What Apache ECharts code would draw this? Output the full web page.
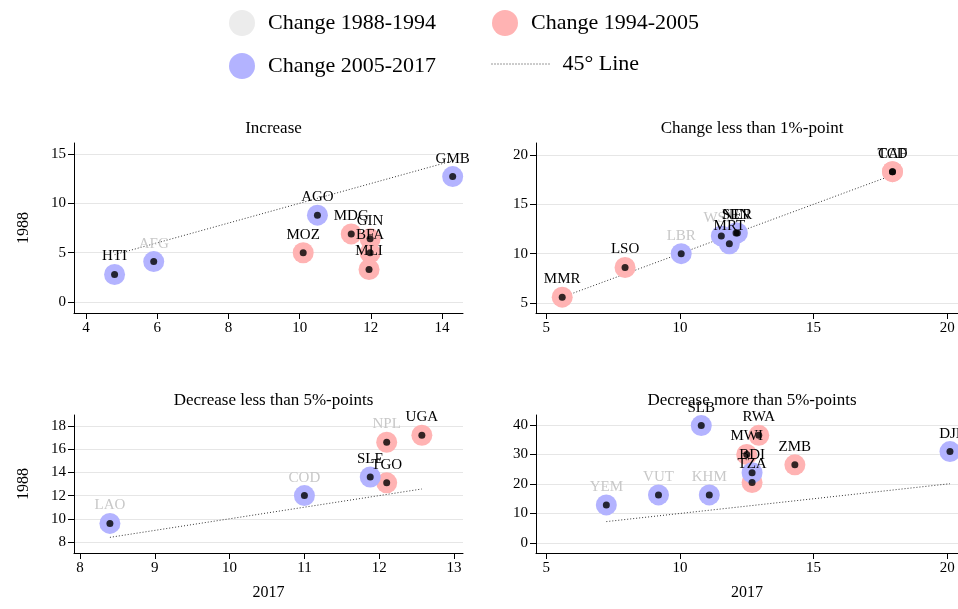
<!DOCTYPE html>
<html><head><meta charset="utf-8">
<script src="https://cdn.jsdelivr.net/npm/echarts@6/dist/echarts.min.js"></script>
<style>body{margin:0}#c{width:958px;height:609px}</style></head>
<body><div id="c"></div>
<script>
// [name, x(2017), y(1988), period, greyLabel]
var increase = [
  ["HTI", 4.8, 2.8, 2, 0], ["AFG", 5.9, 4.1, 2, 1], ["MOZ", 10.1, 5.0, 1, 0],
  ["AGO", 10.5, 8.8, 2, 0], ["MDG", 11.45, 6.9, 1, 0], ["GIN", 11.98, 6.4, 1, 0],
  ["BFA", 11.98, 5.0, 1, 0], ["MLI", 11.95, 3.3, 1, 0], ["GMB", 14.3, 12.7, 2, 0]
];
var small = [
  ["MMR", 5.6, 5.6, 1, 0], ["LSO", 7.95, 8.6, 1, 0], ["LBR", 10.05, 10.0, 2, 1],
  ["WSM", 11.55, 11.8, 2, 1], ["MRT", 11.85, 11.0, 2, 0], ["NER", 12.15, 12.1, 2, 0],
  ["SEN", 12.1, 12.1, 2, 0], ["TCD", 17.95, 18.3, 1, 0], ["CAF", 17.95, 18.3, 1, 0]
];
var decSmall = [
  ["LAO", 8.4, 9.6, 2, 1], ["COD", 11.0, 12.0, 2, 1], ["SLE", 11.88, 13.6, 2, 0],
  ["TGO", 12.1, 13.1, 1, 0], ["NPL", 12.1, 16.6, 1, 1], ["UGA", 12.57, 17.2, 1, 0]
];
var decLarge = [
  ["YEM", 7.25, 12.9, 2, 1], ["VUT", 9.2, 16.3, 2, 1], ["KHM", 11.1, 16.3, 2, 1],
  ["SLB", 10.8, 39.8, 2, 0], ["RWA", 12.95, 36.5, 1, 0], ["MWI", 12.5, 30.0, 1, 0],
  ["ZMB", 14.3, 26.5, 1, 0], ["BDI", 12.7, 23.8, 2, 0], ["TZA", 12.7, 20.5, 1, 0],
  ["DJI", 20.1, 31.0, 2, 0]
];
var panels = [increase, small, decSmall, decLarge];
var titles = ["Increase", "Change less than 1%-point", "Decrease less than 5%-points", "Decrease more than 5%-points"];
var periods = ["Change 1988-1994", "Change 1994-2005", "Change 2005-2017"];
var colors = ["#ececec", "#ffb3b3", "#b3b3ff"];
var xTicks = [[4, 6, 8, 10, 12, 14], [5, 10, 15, 20], [8, 9, 10, 11, 12, 13], [5, 10, 15, 20]];
var yTicks = [[0, 5, 10, 15], [5, 10, 15, 20], [8, 10, 12, 14, 16, 18], [0, 10, 20, 30, 40]];

var FONT = "Liberation Serif";
var grids = [
  { left: 74, right: 495, top: 143, height: 170 },
  { left: 536, right: 0, top: 143, height: 170 },
  { left: 74, right: 495, top: 415, height: 138 },
  { left: 536, right: 0, top: 415, height: 138 }
];
var xr = [[3.66, 14.59], [4.62, 20.4], [7.92, 13.12], [4.62, 20.4]];
var yr = [[-1.1, 16.1], [4, 21.2], [7.05, 18.95], [-3.4, 43.4]];

var xAxis = [], yAxis = [], series = [], title = [];
panels.forEach(function (d, i) {
  var axisText = { color: "#000", fontFamily: FONT, fontSize: 15 };
  xAxis.push({
    gridIndex: i, type: "value", min: xr[i][0], max: xr[i][1],
    splitLine: { show: false },
    axisLine: { onZero: false, lineStyle: { color: "#000" } },
    axisTick: { customValues: xTicks[i], lineStyle: { color: "#000" }, length: 6 },
    axisLabel: Object.assign({ customValues: xTicks[i] }, axisText),
    name: i >= 2 ? "2017" : "", nameLocation: "middle", nameGap: 32,
    nameTextStyle: { color: "#000", fontFamily: FONT, fontSize: 16 }
  });
  yAxis.push({
    gridIndex: i, type: "value", min: yr[i][0], max: yr[i][1],
    axisLine: { show: true, onZero: false, lineStyle: { color: "#000" } },
    axisTick: { show: true, customValues: yTicks[i], lineStyle: { color: "#000" }, length: 6 },
    axisLabel: Object.assign({ customValues: yTicks[i] }, axisText),
    splitLine: { lineStyle: { color: "#e6e6e6" } },
    name: i % 2 === 0 ? "1988" : "", nameLocation: "middle", nameGap: 42,
    nameTextStyle: { color: "#000", fontFamily: FONT, fontSize: 16 }
  });
  var xs = d.map(function (p) { return p[1]; });
  var lo = Math.min.apply(null, xs), hi = Math.max.apply(null, xs);
  series.push({
    name: "45° Line", type: "line", xAxisIndex: i, yAxisIndex: i, symbol: "none",
    data: [[lo, lo], [hi, hi]], lineStyle: { color: "#333", width: 1, type: [1, 2] },
    itemStyle: { color: "#333" }, z: 1
  });
  [0, 1, 2].forEach(function (k) {
    var pts = d.filter(function (p) { return p[3] === k; });
    series.push({
      name: periods[k], type: "scatter", xAxisIndex: i, yAxisIndex: i, symbolSize: 21,
      itemStyle: { color: colors[k], opacity: 1 }, z: 2,
      data: pts.map(function (p) {
        return {
          value: [p[1], p[2]],
          label: { show: true, position: "top", distance: 0, formatter: p[0],
            color: p[4] ? "#c8c8c8" : "#000", fontFamily: FONT, fontSize: 15 }
        };
      })
    });
  });
  series.push({
    name: "dot", type: "scatter", xAxisIndex: i, yAxisIndex: i, symbolSize: 7,
    itemStyle: { color: "#000" }, z: 3, silent: true,
    data: d.map(function (p) { return [p[1], p[2]]; })
  });
  title.push({
    text: titles[i], left: grids[i].left + (958 - grids[i].left - grids[i].right) / 2,
    textAlign: "center", top: grids[i].top - 28,
    textStyle: { fontFamily: FONT, fontSize: 17, fontWeight: "normal", color: "#000" }
  });
});

var legendText = { fontFamily: FONT, fontSize: 22, color: "#000", padding: [0, 0, 0, 8] };
var chart = echarts.init(document.getElementById("c"));
chart.setOption({
  animation: false,
  title: title,
  legend: [
    { data: [periods[0], periods[2]], orient: "vertical", left: 224, top: 5, itemGap: 17,
      itemWidth: 26, itemHeight: 26, icon: "circle", textStyle: legendText },
    { data: [periods[1]], orient: "vertical", left: 487, top: 5,
      itemWidth: 26, itemHeight: 26, icon: "circle", textStyle: legendText },
    { data: [{ name: "45° Line", itemStyle: { opacity: 0 } }], left: 486, top: 48,
      itemWidth: 58, itemHeight: 26, textStyle: legendText,
      lineStyle: { width: 1, type: [1, 2], color: "#333" } }
  ],
  grid: grids,
  xAxis: xAxis, yAxis: yAxis, series: series
});
</script></body></html>
